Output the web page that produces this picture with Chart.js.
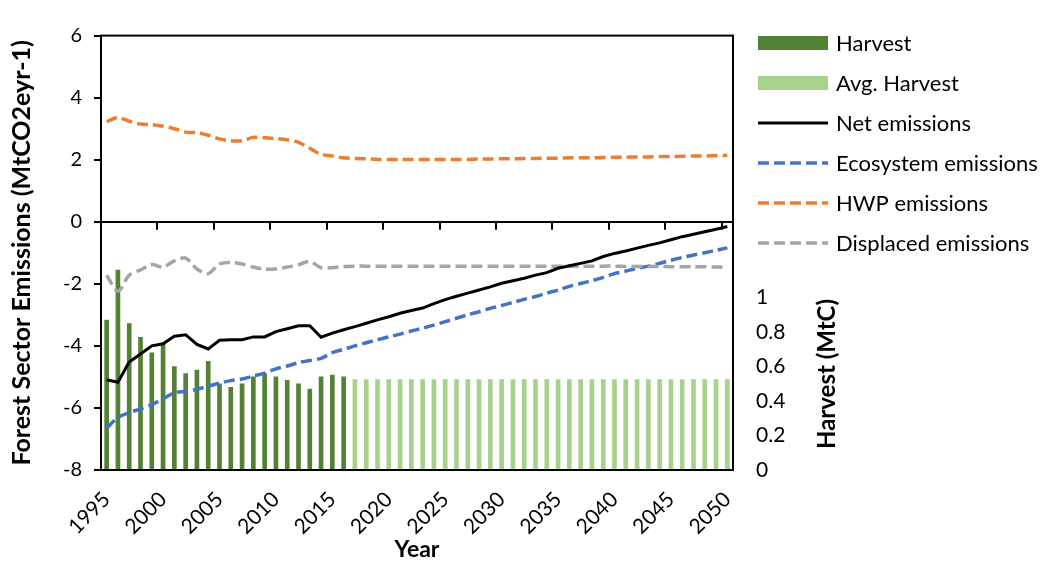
<!DOCTYPE html>
<html>
<head>
<meta charset="utf-8">
<script src="https://cdn.jsdelivr.net/npm/chart.js@4.4.1/dist/chart.umd.min.js"></script>
<style>
  html, body { margin: 0; padding: 0; background: #fff; }
  #wrap { width: 1041px; height: 563px; }
</style>
</head>
<body>
<div id="wrap"><canvas id="c" width="1041" height="563"></canvas></div>
<script>
const years = ['1995','1996','1997','1998','1999','2000','2001','2002','2003','2004',
  '2005','2006','2007','2008','2009','2010','2011','2012','2013','2014',
  '2015','2016','2017','2018','2019','2020','2021','2022','2023','2024',
  '2025','2026','2027','2028','2029','2030','2031','2032','2033','2034',
  '2035','2036','2037','2038','2039','2040','2041','2042','2043','2044',
  '2045','2046','2047','2048','2049','2050'];
const yearTicks = ['1995','2000','2005','2010','2015','2020','2025','2030','2035','2040','2045','2050'];
const emissionTicks = [-8, -6, -4, -2, 0, 2, 4, 6];
const harvestTicks = [0, 0.2, 0.4, 0.6, 0.8, 1];

// harvest (MtC), 1995-2016
const harvest = [0.87, 1.16, 0.85, 0.77, 0.68, 0.73, 0.60, 0.56, 0.58, 0.63,
  0.50, 0.48, 0.50, 0.54, 0.56, 0.54, 0.52, 0.50, 0.47, 0.54, 0.55, 0.54];
// avg harvest (MtC), 2017-2050
const avgHarvest = [0.525, 0.525, 0.525, 0.525, 0.525, 0.525, 0.525, 0.525, 0.525, 0.525,
  0.525, 0.525, 0.525, 0.525, 0.525, 0.525, 0.525, 0.525, 0.525, 0.525,
  0.525, 0.525, 0.525, 0.525, 0.525, 0.525, 0.525, 0.525, 0.525, 0.525,
  0.525, 0.525, 0.525, 0.525];

// emissions (MtCO2e/yr), 1995-2050
const netEmissions = [-5.09, -5.17, -4.52, -4.26, -4.00, -3.93, -3.69, -3.64, -3.95, -4.10,
  -3.82, -3.80, -3.80, -3.71, -3.71, -3.54, -3.45, -3.35, -3.35, -3.72,
  -3.59, -3.48, -3.38, -3.27, -3.16, -3.06, -2.95, -2.86, -2.78, -2.64,
  -2.51, -2.40, -2.30, -2.20, -2.10, -1.98, -1.90, -1.82, -1.72, -1.64,
  -1.50, -1.42, -1.34, -1.26, -1.12, -1.02, -0.94, -0.85, -0.76, -0.68,
  -0.58, -0.48, -0.40, -0.32, -0.24, -0.15];
const ecoEmissions = [-6.65, -6.31, -6.15, -6.03, -5.89, -5.71, -5.51, -5.47, -5.40, -5.30,
  -5.20, -5.12, -5.07, -4.97, -4.88, -4.74, -4.65, -4.54, -4.47, -4.40,
  -4.22, -4.11, -4.00, -3.90, -3.80, -3.71, -3.62, -3.52, -3.43, -3.33,
  -3.22, -3.11, -3.00, -2.90, -2.79, -2.70, -2.60, -2.50, -2.41, -2.30,
  -2.20, -2.08, -1.99, -1.90, -1.79, -1.67, -1.59, -1.50, -1.43, -1.34,
  -1.24, -1.15, -1.07, -1.00, -0.92, -0.84];
const hwpEmissions = [3.23, 3.36, 3.24, 3.15, 3.13, 3.08, 3.00, 2.89, 2.87, 2.79,
  2.67, 2.61, 2.61, 2.72, 2.71, 2.68, 2.64, 2.56, 2.37, 2.17,
  2.12, 2.06, 2.04, 2.03, 2.01, 2.01, 2.01, 2.01, 2.01, 2.01,
  2.01, 2.01, 2.01, 2.02, 2.02, 2.03, 2.03, 2.04, 2.04, 2.05,
  2.05, 2.06, 2.06, 2.06, 2.07, 2.08, 2.08, 2.09, 2.09, 2.10,
  2.10, 2.11, 2.12, 2.12, 2.13, 2.14];
const displacedEmissions = [-1.72, -2.24, -1.72, -1.55, -1.38, -1.46, -1.26, -1.17, -1.52, -1.67,
  -1.36, -1.31, -1.36, -1.46, -1.53, -1.52, -1.46, -1.38, -1.28, -1.48,
  -1.48, -1.44, -1.43, -1.43, -1.43, -1.43, -1.43, -1.43, -1.43, -1.43,
  -1.43, -1.43, -1.43, -1.43, -1.43, -1.43, -1.43, -1.43, -1.43, -1.43,
  -1.43, -1.43, -1.43, -1.43, -1.43, -1.43, -1.44, -1.44, -1.44, -1.44,
  -1.45, -1.45, -1.45, -1.45, -1.46, -1.46];

Chart.defaults.font.family = 'Lato';
Chart.defaults.color = '#000';

// frame, zero-line tick marks, legend and right axis title
const extras = {
  id: 'extras',
  afterDraw(chart) {
    const { ctx, chartArea: a, scales } = chart;
    ctx.save();
    ctx.strokeStyle = '#000';
    ctx.lineWidth = 2;
    ctx.setLineDash([]);
    ctx.strokeRect(a.left, a.top, a.right - a.left, a.bottom - a.top);

    const y0 = scales.y.getPixelForValue(0);
    const step = (a.right - a.left) / years.length;
    ctx.beginPath();
    for (let k = 5; k < years.length; k += 5) {
      const x = Math.round(a.left + k * step);
      ctx.moveTo(x, y0);
      ctx.lineTo(x, y0 + 8);
    }
    ctx.stroke();

    // legend
    ctx.font = '22px Lato';
    ctx.textBaseline = 'middle';
    ctx.textAlign = 'left';
    chart.data.datasets.forEach((ds, i) => {
      const y = 43 + i * 40;
      if (ds.type === 'bar') {
        ctx.fillStyle = ds.backgroundColor;
        ctx.fillRect(758, y - 7, 70, 14);
      } else {
        ctx.strokeStyle = ds.borderColor;
        ctx.lineWidth = ds.borderWidth;
        ctx.setLineDash(ds.borderDash || []);
        ctx.beginPath();
        ctx.moveTo(758, y);
        ctx.lineTo(828, y);
        ctx.stroke();
        ctx.setLineDash([]);
      }
      ctx.fillStyle = '#000';
      ctx.fillText(ds.label, 836, y + 1);
    });

    ctx.translate(827, 374);
    ctx.rotate(-Math.PI / 2);
    ctx.textAlign = 'center';
    ctx.font = 'bold 24px Lato';
    ctx.fillText('Harvest (MtC)', 0, 0);
    ctx.restore();
  }
};

const lineBase = { type: 'line', yAxisID: 'y', pointRadius: 0, pointHoverRadius: 0, fill: false };

new Chart(document.getElementById('c'), {
  type: 'bar',
  data: {
    labels: years,
    datasets: [
      { type: 'bar', label: 'Harvest', yAxisID: 'y1', order: 10, grouped: false,
        data: harvest.map((v, i) => ({ x: years[i], y: v })),
        backgroundColor: '#548235', barThickness: 4 },
      { type: 'bar', label: 'Avg. Harvest', yAxisID: 'y1', order: 11, grouped: false,
        data: avgHarvest.map((v, i) => ({ x: years[harvest.length + i], y: v })),
        backgroundColor: '#A9D18E', barThickness: 4 },
      { ...lineBase, label: 'Net emissions', data: netEmissions, order: 0,
        borderColor: '#000000', borderWidth: 3, tension: 0 },
      { ...lineBase, label: 'Ecosystem emissions', data: ecoEmissions, order: 2,
        borderColor: '#4472C4', borderWidth: 3.5, borderDash: [11, 5], tension: 0.3 },
      { ...lineBase, label: 'HWP emissions', data: hwpEmissions, order: 3,
        borderColor: '#ED7D31', borderWidth: 3.5, borderDash: [11, 5], tension: 0.3 },
      { ...lineBase, label: 'Displaced emissions', data: displacedEmissions, order: 1,
        borderColor: '#A5A5A5', borderWidth: 3.5, borderDash: [11, 5], tension: 0.3 }
    ]
  },
  options: {
    responsive: false,
    animation: false,
    layout: { padding: { top: 20, left: 0, right: 0, bottom: 0 } },
    plugins: { legend: { display: false }, tooltip: { enabled: false } },
    scales: {
      x: {
        offset: true,
        grid: { display: false, drawTicks: false },
        border: { display: false },
        ticks: {
          autoSkip: false, minRotation: 45, maxRotation: 45, padding: 17,
          font: { size: 21 },
          callback: (v, i) => yearTicks.includes(years[i]) ? years[i] : ''
        },
        title: { display: true, text: 'Year', font: { size: 23, weight: 'bold' }, padding: { top: 0, bottom: 0 } },
        afterFit: s => { s.height = 93; }
      },
      y: {
        position: 'left',
        min: emissionTicks[0],
        max: emissionTicks[emissionTicks.length - 1],
        afterBuildTicks: s => { s.ticks = emissionTicks.map(v => ({ value: v })); },
        ticks: { padding: 12, font: { size: 20 } },
        grid: {
          color: c => (c.tick && c.tick.value === 0) ? '#000' : 'rgba(0,0,0,0)',
          lineWidth: 2, tickColor: '#000', tickLength: 7, tickWidth: 2
        },
        border: { display: false },
        title: { display: true, text: 'Forest Sector Emissions (MtCO2eyr-1)',
          font: { size: 25, weight: 'bold' }, padding: { top: 7, bottom: 0 } },
        afterFit: s => { s.width = 101; }
      },
      y1: {
        position: 'right',
        min: 0,
        max: 2.52,
        afterBuildTicks: s => { s.ticks = harvestTicks.map(v => ({ value: v })); },
        grid: { display: false, drawTicks: false },
        border: { display: false },
        ticks: { padding: 23, font: { size: 21 }, callback: v => String(v) },
        afterFit: s => { s.width = 308; }
      }
    }
  },
  plugins: [extras]
});
</script>
</body>
</html>
